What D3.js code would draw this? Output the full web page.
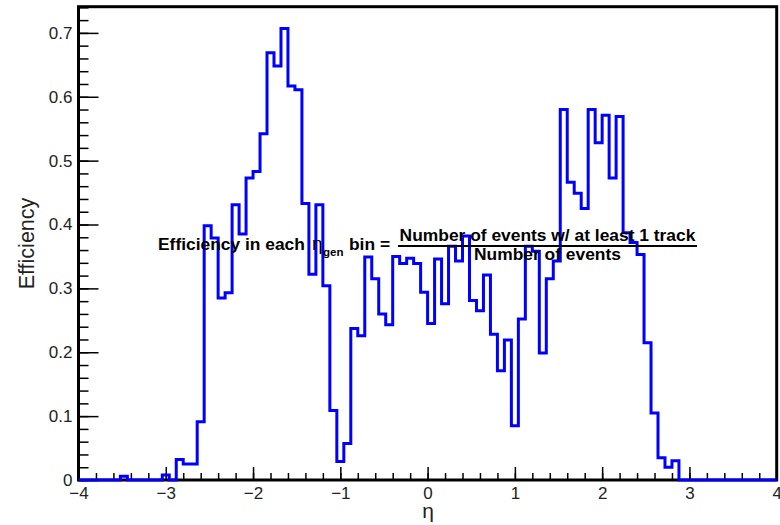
<!DOCTYPE html>
<html>
<head>
<meta charset="utf-8">
<script src="https://cdn.jsdelivr.net/npm/d3@7"></script>
<style>
body { margin: 0; background: #fff; }
text { font-family: "Liberation Sans", Arial, sans-serif; }
</style>
</head>
<body>
<div id="chart-area"></div>
<script>
const MARGIN = { LEFT: 78.5, RIGHT: 3.3, TOP: 6.7, BOTTOM: 45 }
const WIDTH = 780 - MARGIN.LEFT - MARGIN.RIGHT
const HEIGHT = 525 - MARGIN.TOP - MARGIN.BOTTOM

// binning in eta (100 bins from -4 to 4)
const ETA_MIN = -4
const ETA_MAX = 4
const N_BINS = 100
const Y_MAX = 0.741

// efficiency per bin
const efficiency = [
	0, 0, 0, 0, 0, 0, 0.006, 0, 0, 0,
	0, 0, 0.008, 0, 0.032, 0.025, 0.025, 0.091, 0.398, 0.379,
	0.285, 0.293, 0.431, 0.385, 0.473, 0.483, 0.542, 0.669, 0.648, 0.707,
	0.617, 0.611, 0.433, 0.322, 0.431, 0.304, 0.109, 0.029, 0.057, 0.237,
	0.226, 0.349, 0.315, 0.260, 0.243, 0.350, 0.339, 0.347, 0.339, 0.294,
	0.245, 0.346, 0.276, 0.366, 0.343, 0.382, 0.281, 0.265, 0.321, 0.228,
	0.171, 0.219, 0.085, 0.252, 0.366, 0.358, 0.199, 0.315, 0.343, 0.580,
	0.466, 0.449, 0.425, 0.580, 0.528, 0.571, 0.473, 0.569, 0.387, 0.372,
	0.353, 0.215, 0.105, 0.035, 0.020, 0.030, 0, 0, 0, 0,
	0, 0, 0, 0, 0, 0, 0, 0, 0, 0
]

const xTickValues = [-4, -3, -2, -1, 0, 1, 2, 3, 4]
const yTickValues = [0, 0.1, 0.2, 0.3, 0.4, 0.5, 0.6, 0.7]

const svg = d3.select("#chart-area").append("svg")
	.attr("width", 780)
	.attr("height", 525)
	.style("display", "block")

const g = svg.append("g")
	.attr("transform", `translate(${MARGIN.LEFT}, ${MARGIN.TOP})`)

// scales
const x = d3.scaleLinear().domain([ETA_MIN, ETA_MAX]).range([0, WIDTH])
const y = d3.scaleLinear().domain([0, Y_MAX]).range([HEIGHT, 0])

// minor ticks
const xMinor = d3.range(ETA_MIN, ETA_MAX + 0.001, 0.2)
const yMinor = d3.range(0, Y_MAX, 0.02)

function styleAxis(sel) {
	sel.select(".domain").remove()
	sel.selectAll(".tick line").attr("stroke", "#000").attr("stroke-width", 1.5)
	sel.selectAll(".tick text")
		.attr("fill", "#222")
		.style("font-size", "17px")
		.style("font-family", "'Liberation Sans', Arial, sans-serif")
}

g.append("g")
	.attr("transform", `translate(0, ${HEIGHT})`)
	.call(d3.axisBottom(x).tickValues(xMinor).tickSize(-7).tickFormat(""))
	.call(styleAxis)

g.append("g")
	.attr("transform", `translate(0, ${HEIGHT})`)
	.call(d3.axisBottom(x).tickValues(xTickValues).tickSize(-13).tickPadding(7)
		.tickFormat(d3.format("")))
	.call(styleAxis)

g.append("g")
	.call(d3.axisLeft(y).tickValues(yMinor).tickSize(-10).tickFormat(""))
	.call(styleAxis)

g.append("g")
	.call(d3.axisLeft(y).tickValues(yTickValues).tickSize(-20).tickPadding(6)
		.tickFormat(d => d === 0 ? "0" : d3.format(".1f")(d)))
	.call(styleAxis)

// frame
g.append("rect")
	.attr("width", WIDTH)
	.attr("height", HEIGHT)
	.attr("fill", "none")
	.attr("stroke", "#000")
	.attr("stroke-width", 3)

// axis titles
svg.append("text")
	.attr("transform", "translate(34, 243.5) rotate(-90)")
	.attr("text-anchor", "middle")
	.attr("fill", "#222")
	.style("font-size", "21.5px")
	.text("Efficiency")

svg.append("text")
	.attr("x", 428)
	.attr("y", 518)
	.attr("text-anchor", "middle")
	.attr("fill", "#222")
	.style("font-size", "21px")
	.text("η")

// annotation (TLatex-like)
const note = svg.append("g")
	.attr("fill", "#000")
	.style("font-weight", "bold")

note.append("text")
	.attr("x", 158).attr("y", 250)
	.style("font-size", "17.4px")
	.text("Efficiency in each")
note.append("text")
	.attr("x", 312).attr("y", 250)
	.style("font-size", "19px")
	.style("font-weight", "normal")
	.text("η")
note.append("text")
	.attr("x", 323).attr("y", 256)
	.style("font-size", "11.5px")
	.text("gen")
note.append("text")
	.attr("x", 349).attr("y", 250)
	.style("font-size", "17.4px")
	.text("bin =")
note.append("text")
	.attr("x", 547.5).attr("y", 240.5)
	.attr("text-anchor", "middle")
	.style("font-size", "17.4px")
	.text("Number of events w/ at least 1 track")
note.append("line")
	.attr("x1", 398).attr("x2", 697)
	.attr("y1", 246).attr("y2", 246)
	.attr("stroke", "#000")
	.attr("stroke-width", 2)
note.append("text")
	.attr("x", 547.5).attr("y", 259.5)
	.attr("text-anchor", "middle")
	.style("font-size", "17.4px")
	.text("Number of events")

// histogram outline as steps
const binWidth = (ETA_MAX - ETA_MIN) / N_BINS
const steps = [[ETA_MIN, 0]]
efficiency.forEach((v, i) => {
	const lo = ETA_MIN + i * binWidth
	steps.push([lo, v], [lo + binWidth, v])
})
steps.push([ETA_MAX, 0])

const line = d3.line()
	.x(d => x(d[0]))
	.y(d => y(d[1]))

g.append("path")
	.datum(steps)
	.attr("d", line)
	.attr("fill", "none")
	.attr("stroke", "#0000ff")
	.attr("stroke-width", 3)
	.attr("stroke-linejoin", "miter")
</script>
</body>
</html>
